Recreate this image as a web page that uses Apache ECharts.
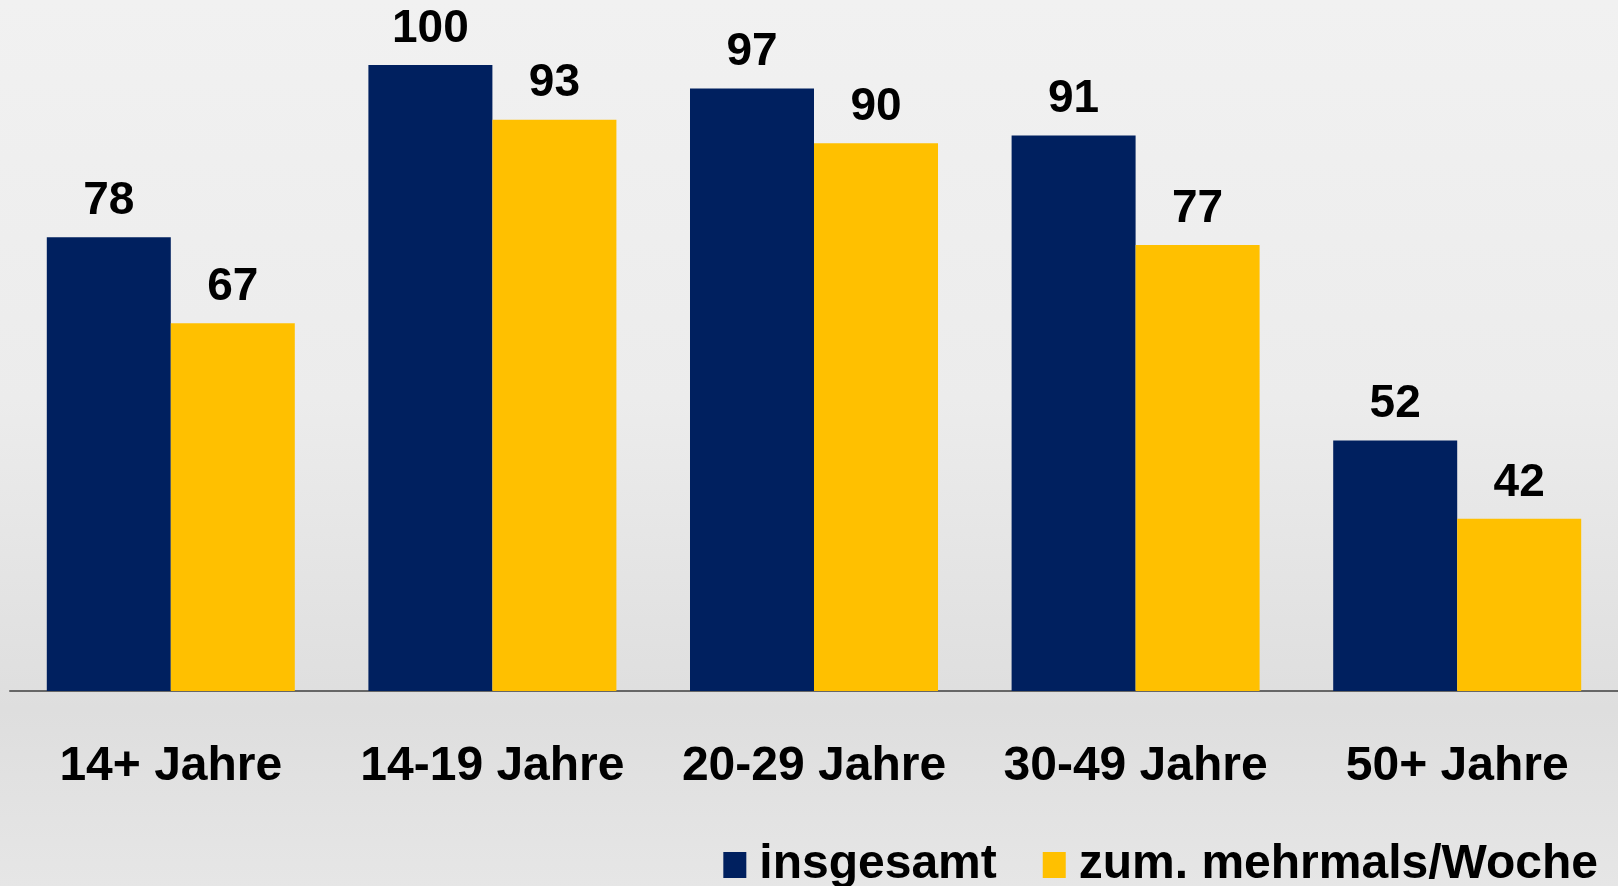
<!DOCTYPE html>
<html>
<head>
<meta charset="utf-8">
<script src="https://cdn.jsdelivr.net/npm/echarts@6/dist/echarts.min.js"></script>
<style>
html,body{margin:0;padding:0;width:1618px;height:886px;overflow:hidden;}
#c{width:1618px;height:886px;}
</style>
</head>
<body>
<div id="c"></div>
<script>
const categories = ['14+ Jahre', '14-19 Jahre', '20-29 Jahre', '30-49 Jahre', '50+ Jahre'];
const seriesNames = ['insgesamt', 'zum. mehrmals/Woche'];
const insgesamt = [78, 100, 97, 91, 52];
const mehrmals = [67, 93, 90, 77, 42];

const chart = echarts.init(document.getElementById('c'), null, {renderer: 'canvas'});
const font = '"Liberation Sans", Arial, sans-serif';
const valueLabel = {
  show: true, position: 'top', distance: 13,
  fontFamily: font, fontWeight: 'bold', fontSize: 46, lineHeight: 46, color: '#000'
};
chart.setOption({
  backgroundColor: {
    type: 'linear', x: 0, y: 0, x2: 0, y2: 1,
    colorStops: [
      {offset: 0, color: '#f1f1f1'},
      {offset: 0.45, color: '#ececec'},
      {offset: 0.8, color: '#dedede'},
      {offset: 1, color: '#e6e6e6'}
    ]
  },
  animation: false,
  grid: {left: 10, right: 0, top: 65, bottom: 195, containLabel: false},
  legend: {
    data: seriesNames,
    right: 15, top: 836,
    itemWidth: 23, itemHeight: 26, itemGap: 46,
    icon: 'rect',
    textStyle: {fontFamily: font, fontWeight: 'bold', fontSize: 48, lineHeight: 48, color: '#000', padding: [0, 0, 0, 8]}
  },
  xAxis: {
    type: 'category', data: categories,
    axisLine: {show: true, lineStyle: {color: '#666', width: 2}},
    axisTick: {show: false},
    axisLabel: {interval: 0, margin: 52, fontFamily: font, fontWeight: 'bold', fontSize: 48, lineHeight: 48, color: '#000'}
  },
  yAxis: {
    type: 'value', min: 20, max: 100,
    show: false, splitLine: {show: false}
  },
  series: [
    {name: seriesNames[0], type: 'bar', data: insgesamt, barWidth: 124, barGap: '0%',
     itemStyle: {color: '#00205f'}, label: valueLabel},
    {name: seriesNames[1], type: 'bar', data: mehrmals, barWidth: 124, barGap: '0%',
     itemStyle: {color: '#ffc000'}, label: valueLabel}
  ]
});
</script>
</body>
</html>
